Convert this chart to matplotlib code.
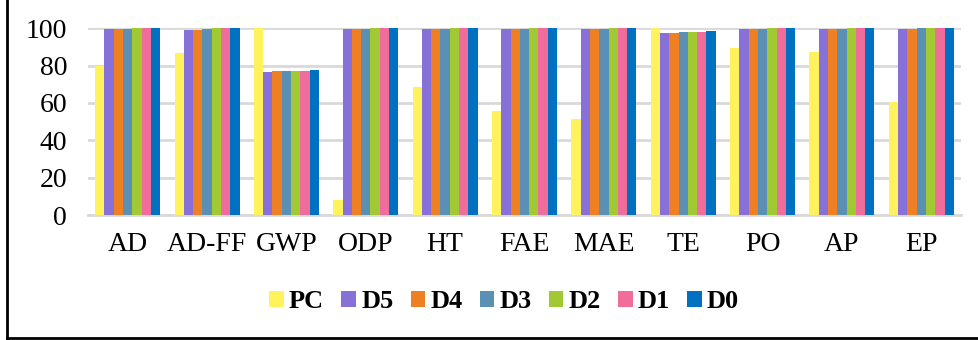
import numpy as np
import matplotlib
matplotlib.use("Agg")
from matplotlib import pyplot as plt
from matplotlib.lines import Line2D

categories = ["AD", "AD-FF", "GWP", "ODP", "HT", "FAE", "MAE", "TE", "PO", "AP", "EP"]
series_names = ["PC", "D5", "D4", "D3", "D2", "D1", "D0"]

pc = [80.0, 87.0, 100.0, 8.0, 68.7, 55.7, 51.4, 100.0, 89.3, 87.3, 60.5]
d5 = [99.5, 99.0, 76.8, 99.5, 99.4, 99.5, 99.5, 97.3, 99.4, 99.5, 99.6]
d4 = [99.7, 99.3, 76.9, 99.7, 99.6, 99.7, 99.7, 97.5, 99.6, 99.7, 99.8]
d3 = [99.8, 99.7, 76.9, 99.8, 99.8, 99.8, 99.8, 97.8, 99.8, 99.8, 99.9]
d2 = [100.0, 100.0, 77.0, 100.0, 100.0, 100.0, 100.0, 98.0, 100.0, 100.0, 100.0]
d1 = [100.0, 100.0, 77.2, 100.0, 100.0, 100.0, 100.0, 98.0, 100.0, 100.0, 100.0]
d0 = [100.0, 100.0, 77.5, 100.0, 100.0, 100.0, 100.0, 98.5, 100.0, 100.0, 100.0]

colors = ["#fff25c", "#8771d9", "#ee7f22", "#5b90b5", "#a1c934", "#f06c9b", "#0070c0"]

plt.rcParams["font.family"] = ["Liberation Serif", "DejaVu Serif"]

fig = plt.figure(figsize=(9.79, 3.4), dpi=100)
ax = fig.add_axes([0.0899, 0.3676, 0.8917, 0.5492])

data = [pc, d5, d4, d3, d2, d1, d0]
x = np.arange(len(categories))
n = len(data)
group_w = 0.82
w = group_w / n
for i, (vals, col, name) in enumerate(zip(data, colors, series_names)):
    ax.bar(x - group_w / 2 + w * (i + 0.5), vals, width=w, color=col,
           label=name, zorder=3, linewidth=0)

ax.set_xlim(-0.5, len(categories) - 0.5)
ax.set_ylim(0, 100)
ax.set_yticks(np.arange(0, 101, 20))
ax.set_xticks(x)
ax.set_xticklabels(categories)
ax.tick_params(axis="both", length=0, labelsize=20)
ax.tick_params(axis="y", pad=15)
ax.tick_params(axis="x", pad=12)
ax.grid(axis="y", color="#d9d9d9", linewidth=2, zorder=0)
for s in ["top", "right", "left"]:
    ax.spines[s].set_visible(False)
ax.spines["bottom"].set_color("#d9d9d9")
ax.spines["bottom"].set_linewidth(2)

leg = fig.legend(loc="center", bbox_to_anchor=(0.515, 0.112), ncol=7, frameon=False,
                 prop={"weight": "bold", "size": 19}, handlelength=0.55, handleheight=0.55,
                 handletextpad=0.2, columnspacing=0.65, borderaxespad=0)

# outer frame (left and bottom edges)
fig.add_artist(Line2D([7.5 / 979, 7.5 / 979], [2 / 340, 1.0], color="black", linewidth=2))
fig.add_artist(Line2D([7.5 / 979, 1.0], [2 / 340, 2 / 340], color="black", linewidth=2))

fig.savefig("out.png", dpi=100)
